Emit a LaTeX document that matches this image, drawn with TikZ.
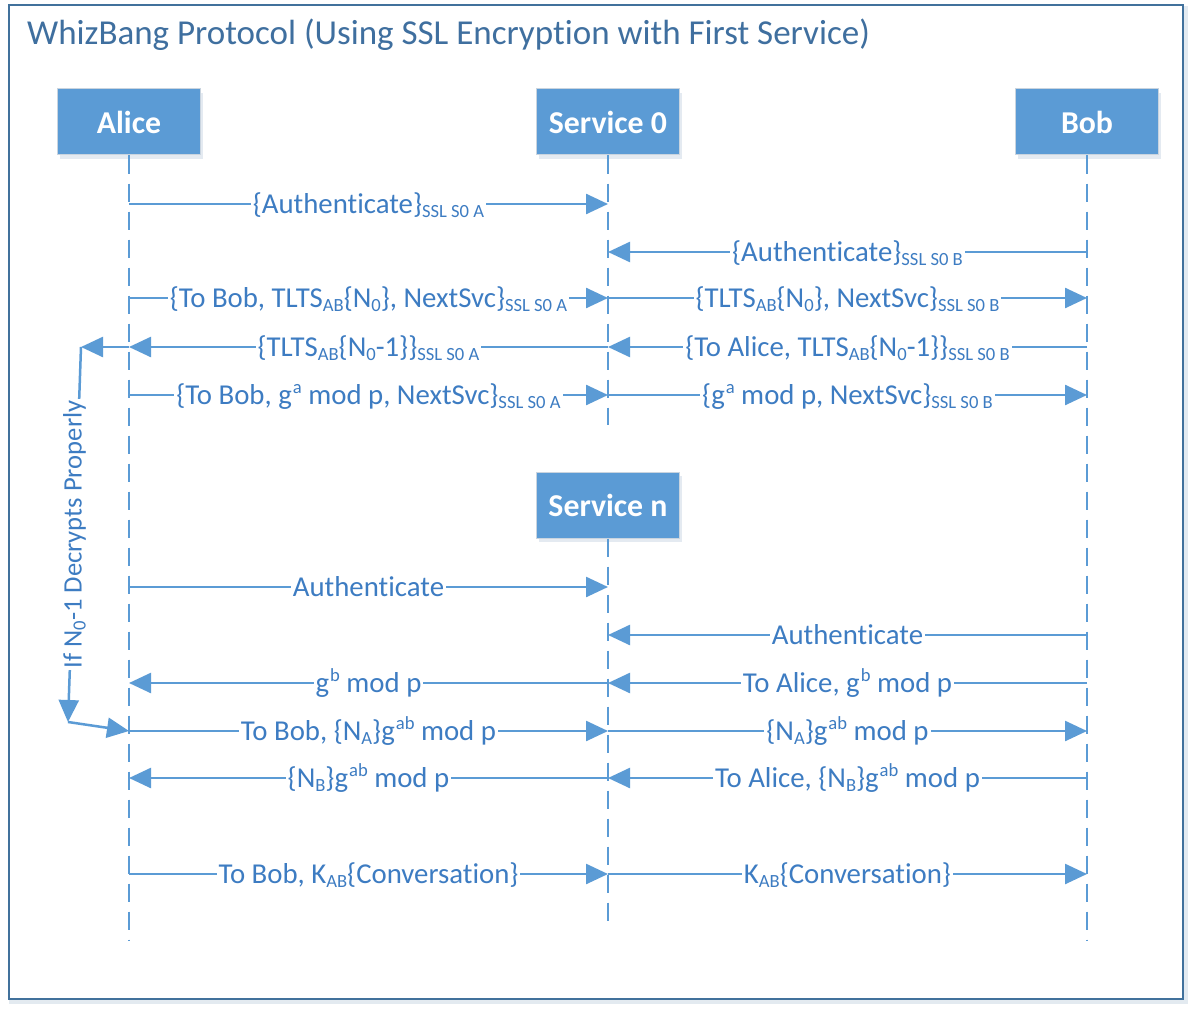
\documentclass[tikz,border=0pt]{standalone}
\usepackage{fontspec}
\setmainfont{Carlito}[Ligatures=NoCommon]
\usetikzlibrary{arrows.meta,shadows}
\definecolor{boxblue}{HTML}{5B9BD5}
\definecolor{boxedge}{HTML}{C9D4DF}
\definecolor{framecol}{HTML}{41719C}
\definecolor{titlecol}{HTML}{3F6F9F}
\definecolor{lbltext}{HTML}{3D7CC2}
\newcommand\lblfont{\fontsize{28.8}{32}\selectfont}
\newcommand\loopfont{\fontsize{26.6}{30}\selectfont}
\newcommand\boxfont{\fontsize{31.8}{34}\selectfont\bfseries}
\newcommand\titlefont{\fontsize{35}{38}\selectfont}
\newcommand\sbs[1]{\raisebox{-4pt}{\fontsize{18.6}{20}\selectfont #1}}
\newcommand\sps[1]{\kern1pt\raisebox{11pt}{\fontsize{18.6}{20}\selectfont #1}}
\newcommand\msgrow[5]{%
  \coordinate (#5s) at (#2,#1);
  \coordinate (#5e) at (#3,#1);
  \draw[msg] (#5s) -- node[mlabel]{#4} (#5e);}
\begin{document}
\begin{tikzpicture}[x=1pt,y=-1pt,
  actor/.style={draw=boxedge, line width=1pt, fill=boxblue,
    minimum width=143pt, minimum height=66pt, inner sep=0pt,
    text=white, font=\boxfont,
    drop shadow={shadow xshift=2pt, shadow yshift=-4pt, opacity=0.18, fill=boxblue!60!gray}},
  life/.style={draw=boxblue, line width=2.5pt, dash pattern=on 18pt off 10pt},
  msg/.style={draw=boxblue, line width=2.5pt, -{Triangle[length=22pt,width=20pt]}},
  mlabel/.style={fill=white, inner xsep=2pt, inner ysep=0pt, anchor=base,
    yshift=-9pt, text=lbltext, font=\lblfont},
  looplabel/.style={fill=white, inner xsep=2pt, inner ysep=1pt, rotate=90,
    text=lbltext, font=\loopfont}]
\useasboundingbox (0,0) rectangle (1194,1014);
% frame
\draw[framecol!25, line width=4pt, opacity=0.6] (11,8) rectangle (1186,1002);
\draw[framecol, line width=2.5pt, fill=white] (9,5) rectangle (1183,999);
\node[anchor=base west, inner sep=0pt, text=titlecol, font=\titlefont] (title) at (27,45)
  {WhizBang Protocol (Using SSL Encryption with First Service)};
% actors
\node[actor] (alice) at (129,122) {Alice};
\node[actor] (svc0) at (608,122) {Service 0};
\node[actor] (bob) at (1087,122) {Bob};
\node[actor] (svcn) at (608,505) {Service n};
% lifelines
\coordinate (aliceend) at (129,940);
\coordinate (svc0end) at (608,425);
\coordinate (svcnend) at (608,928);
\coordinate (bobend) at (1087,940);
\draw[life] (alice.south) -- (aliceend);
\draw[life] (svc0.south) -- (svc0end);
\draw[life] (svcn.south) -- (svcnend);
\draw[life] (bob.south) -- (bobend);
% messages
\msgrow{204}{129}{608}{\{Authenticate\}\sbs{SSL S0 A}}{m1}
\msgrow{252}{1087}{608}{\{Authenticate\}\sbs{SSL S0 B}}{m2}
\msgrow{298}{129}{608}{\{To Bob, TLTS\sbs{AB}\{N\sbs{0}\}, NextSvc\}\sbs{SSL S0 A}}{m3a}
\msgrow{298}{608}{1087}{\{TLTS\sbs{AB}\{N\sbs{0}\}, NextSvc\}\sbs{SSL S0 B}}{m3b}
\msgrow{347}{608}{129}{\{TLTS\sbs{AB}\{N\sbs{0}-1\}\}\sbs{SSL S0 A}}{m4a}
\msgrow{347}{1087}{608}{\{To Alice, TLTS\sbs{AB}\{N\sbs{0}-1\}\}\sbs{SSL S0 B}}{m4b}
\msgrow{395}{129}{608}{\{To Bob, g\sps{a} mod p, NextSvc\}\sbs{SSL S0 A}}{m5a}
\msgrow{395}{608}{1087}{\{g\sps{a} mod p, NextSvc\}\sbs{SSL S0 B}}{m5b}
\msgrow{587}{129}{608}{Authenticate}{m6}
\msgrow{635}{1087}{608}{Authenticate}{m7}
\msgrow{683}{608}{129}{g\sps{b} mod p}{m8a}
\msgrow{683}{1087}{608}{To Alice, g\sps{b} mod p}{m8b}
\msgrow{731}{129}{608}{To Bob, \{N\sbs{A}\}g\sps{ab} mod p}{m9a}
\msgrow{731}{608}{1087}{\{N\sbs{A}\}g\sps{ab} mod p}{m9b}
\msgrow{778}{608}{129}{\{N\sbs{B}\}g\sps{ab} mod p}{m10a}
\msgrow{778}{1087}{608}{To Alice, \{N\sbs{B}\}g\sps{ab} mod p}{m10b}
\msgrow{874}{129}{608}{To Bob, K\sbs{AB}\{Conversation\}}{m11a}
\msgrow{874}{608}{1087}{K\sbs{AB}\{Conversation\}}{m11b}
% loop: if N0-1 decrypts properly
\coordinate (loopa) at (81,347);
\coordinate (loopb) at (68,722);
\draw[msg] (m4ae) -- (loopa);
\draw[msg] (loopa) -- node[looplabel, pos=0.5]{If N\sbs{0}-1 Decrypts Properly} (loopb);
\draw[msg] (loopb) -- (m9as);
\end{tikzpicture}
\end{document}
